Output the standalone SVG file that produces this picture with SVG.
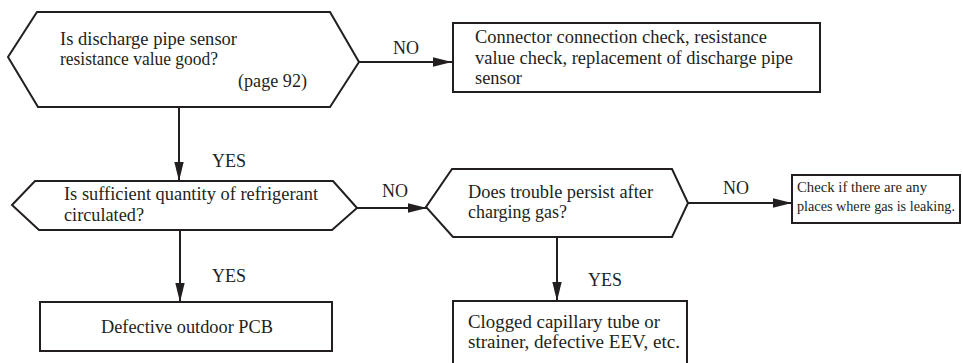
<svg xmlns="http://www.w3.org/2000/svg" width="963" height="363" viewBox="0 0 963 363">
<style>
.s{fill:#fff;stroke:#231f20;stroke-width:2;stroke-linejoin:miter}
text{font-family:'Liberation Serif','Times New Roman',serif;fill:#231f20}
.t{font-size:18px}
.c{font-size:14.6px}
.l{stroke:#231f20;stroke-width:2;fill:none}
</style>
<defs>
<marker id="ah" markerWidth="19" markerHeight="10" refX="19" refY="5" orient="auto" markerUnits="userSpaceOnUse">
<path d="M0,0.3 L19,5 L0,9.7 Z" fill="#231f20"/>
</marker>
</defs>
<rect width="963" height="363" fill="#fff"/>
<g id="connectors">
<line class="l" x1="359" y1="62" x2="452" y2="62" marker-end="url(#ah)"/>
<text class="t" x="393" y="54">NO</text>
<line class="l" x1="179" y1="107" x2="179" y2="181" marker-end="url(#ah)"/>
<text class="t" x="212" y="167">YES</text>
<line class="l" x1="357" y1="208" x2="427" y2="208" marker-end="url(#ah)"/>
<text class="t" x="382" y="197">NO</text>
<line class="l" x1="180" y1="230" x2="180" y2="302" marker-end="url(#ah)"/>
<text class="t" x="212" y="282">YES</text>
<line class="l" x1="688" y1="203" x2="792" y2="203" marker-end="url(#ah)"/>
<text class="t" x="723" y="194">NO</text>
<line class="l" x1="557" y1="237" x2="557" y2="301" marker-end="url(#ah)"/>
<text class="t" x="588" y="286">YES</text>
</g>
<g id="q1">
<polygon class="s" points="37,12 330,12 359,62 330,107 38,107 8,57"/>
<text class="t" x="60" y="45" textLength="177" lengthAdjust="spacingAndGlyphs">Is discharge pipe sensor</text>
<text class="t" x="60" y="65" textLength="158" lengthAdjust="spacingAndGlyphs">resistance value good?</text>
<text class="t" x="238" y="87" textLength="69" lengthAdjust="spacingAndGlyphs">(page 92)</text>
</g>
<g id="a1">
<rect class="s" x="453" y="23" width="367" height="69" stroke-width="2.5"/>
<text class="t" x="475" y="43" textLength="292" lengthAdjust="spacingAndGlyphs">Connector connection check, resistance</text>
<text class="t" x="475" y="64" textLength="318" lengthAdjust="spacingAndGlyphs">value check, replacement of discharge pipe</text>
<text class="t" x="475" y="84" textLength="47" lengthAdjust="spacingAndGlyphs">sensor</text>
</g>
<g id="q2">
<polygon class="s" points="35,181 333,181 357,208 332,230 39,230 12,205"/>
<text class="t" x="64" y="200" textLength="254" lengthAdjust="spacingAndGlyphs">Is sufficient quantity of refrigerant</text>
<text class="t" x="64" y="221" textLength="80" lengthAdjust="spacingAndGlyphs">circulated?</text>
</g>
<g id="a2">
<rect class="s" x="40" y="302" width="292" height="49"/>
<text class="t" x="101" y="333" textLength="172" lengthAdjust="spacingAndGlyphs">Defective outdoor PCB</text>
</g>
<g id="q3">
<polygon class="s" points="452,169 672,169 688,203 672,237 453,237 426,207"/>
<text class="t" x="468" y="198" textLength="185" lengthAdjust="spacingAndGlyphs">Does trouble persist after</text>
<text class="t" x="468" y="218" textLength="99" lengthAdjust="spacingAndGlyphs">charging gas?</text>
</g>
<g id="a3">
<rect class="s" x="792" y="175" width="168" height="48" stroke-width="2.5"/>
<text class="c" x="797" y="192" textLength="130" lengthAdjust="spacingAndGlyphs">Check if there are any</text>
<text class="c" x="797" y="211" textLength="158" lengthAdjust="spacingAndGlyphs">places where gas is leaking.</text>
</g>
<g id="a4">
<rect class="s" x="453" y="301" width="234" height="66"/>
<text class="t" x="468" y="328" textLength="192" lengthAdjust="spacingAndGlyphs">Clogged capillary tube or</text>
<text class="t" x="468" y="348" textLength="212" lengthAdjust="spacingAndGlyphs">strainer, defective EEV, etc.</text>
</g>
</svg>
